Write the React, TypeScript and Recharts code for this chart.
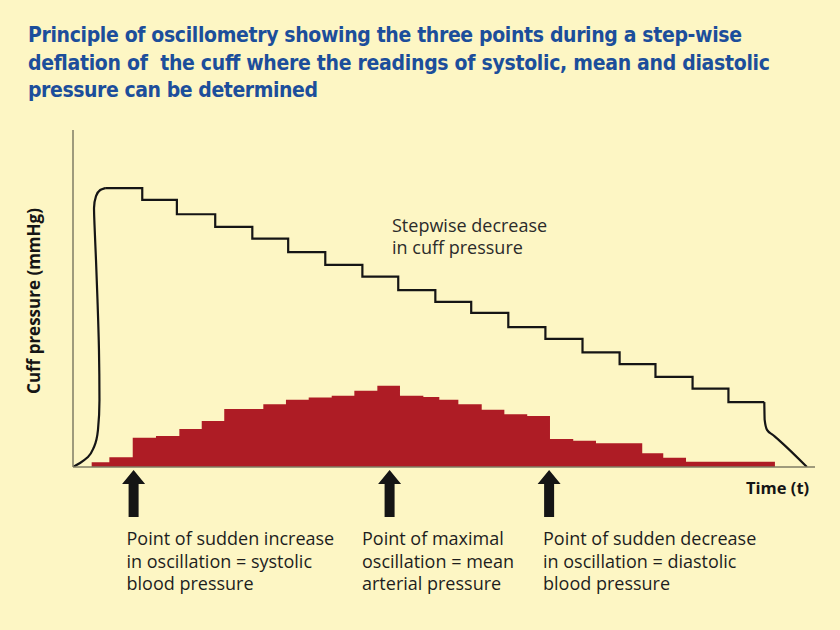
import { ComposedChart, Area, Line, XAxis, YAxis, ReferenceDot } from "recharts";

// time in seconds, pressure / oscillation amplitude in mmHg
const stepTimes = [2.6, 5.6, 8.4, 11.5, 14.5, 17.4, 20.4, 23.4, 26.3, 29.3, 32.2, 35.2, 38.2, 41.2, 44.2, 47.1, 50.1, 53.0, 55.9];
const stepPressures = [165.5, 158.5, 150, 142.5, 135.5, 127.5, 120, 113, 105, 98, 91.5, 83, 76, 68, 61, 53.5, 46.5, 38.5, 38.5];

// inflation (listed from the top down)
const riseTimes = [2.6, 2.2, 1.86, 1.7, 1.74, 1.86, 1.98, 2.1, 2.14, 2.02, 1.7, 1.21, 0.57, 0];
const risePressures = [165.5, 164.4, 160.8, 153.7, 143.6, 122.8, 99.1, 69.4, 39.8, 22.0, 11.9, 5.9, 2.4, 0];

// final release
const fallTimes = [55.9, 55.93, 56.12, 56.6, 57.17, 59.35];
const fallPressures = [38.5, 27.9, 22.0, 19.0, 15.4, 0];

// oscillation amplitude
const pulseTimes = [1.51, 2.94, 4.83, 6.71, 8.6, 10.41, 12.23, 15.39, 17.22, 19.06, 20.92, 22.75, 24.61, 26.44, 28.33, 29.62, 31.16, 33.05, 34.88, 36.73, 38.57, 40.45, 42.29, 46.03, 47.73, 49.57, 56.76];
const pulseAmps = [2.8, 5.8, 17.4, 18.4, 22.6, 27.3, 34.4, 37.2, 39.9, 41.2, 42.3, 45.3, 48.2, 42.3, 41.5, 39.9, 37.2, 34.0, 31.3, 30.3, 16.6, 15.6, 14.1, 8.1, 5.5, 3.1, 3.1];

const markerTimes = [4.9, 25.6, 38.5];

const titleLines = [
  "Principle of oscillometry showing the three points during a step-wise",
  "deflation of  the cuff where the readings of systolic, mean and diastolic",
  "pressure can be determined",
];

const markerLabels = [
  ["Point of sudden increase", "in oscillation = systolic", "blood pressure"],
  ["Point of maximal", "oscillation = mean", "arterial pressure"],
  ["Point of sudden decrease", "in oscillation = diastolic", "blood pressure"],
];

const stepData = stepTimes.map((t, i) => ({ t, p: stepPressures[i] }));
const riseData = riseTimes.map((t, i) => ({ t, p: risePressures[i] }));
const fallData = fallTimes.map((t, i) => ({ t, p: fallPressures[i] }));
const pulseData = pulseTimes.map((t, i) => ({ t, a: pulseAmps[i] }));

const BG = "#FDF6C4";
const RED = "#AE1C25";
const INK = "#151515";
const BLUE = "#1C4E9B";
const AXIS = "#7f7d64";

const bodyFont = "'Open Sans', Lato, sans-serif";
const boldFont = "'Open Sans', Lato, sans-serif";
const titleFont = "'Liberation Sans Narrow', 'DejaVu Sans Condensed', sans-serif";

function Arrow(props: any) {
  const { cx, cy } = props;
  const tip = cy + 3;
  const neck = cy + 17;
  const end = cy + 50;
  const pts = [
    [cx, tip],
    [cx + 11.5, neck],
    [cx + 5, neck],
    [cx + 5, end],
    [cx - 5, end],
    [cx - 5, neck],
    [cx - 11.5, neck],
  ]
    .map((p) => p.join(","))
    .join(" ");
  return <polygon points={pts} fill={INK} />;
}

const labelX = [126.5, 362, 543];
const titleWidths = [714, 742, 290];

export default function App() {
  return (
    <div
      style={{
        position: "absolute",
        left: 0,
        top: 0,
        width: 840,
        height: 630,
        background: BG,
        overflow: "hidden",
      }}
    >
      <ComposedChart width={840} height={630} margin={{ top: 130, right: 25, bottom: 133, left: 13 }}>
        <XAxis
          type="number"
          dataKey="t"
          domain={[0, 60]}
          allowDataOverflow
          tick={false}
          tickLine={false}
          axisLine={{ stroke: AXIS, strokeWidth: 1.5 }}
          height={30}
        />
        <YAxis
          type="number"
          domain={[0, 200]}
          allowDataOverflow
          tick={false}
          tickLine={false}
          axisLine={{ stroke: AXIS, strokeWidth: 1.5 }}
          width={60}
        />
        <Area
          data={pulseData}
          dataKey="a"
          type="stepAfter"
          fill={RED}
          fillOpacity={1}
          stroke="none"
          dot={false}
          activeDot={false}
          isAnimationActive={false}
        />
        <Line
          data={riseData}
          dataKey="p"
          type="monotoneY"
          stroke={INK}
          strokeWidth={2.2}
          dot={false}
          activeDot={false}
          isAnimationActive={false}
        />
        <Line
          data={stepData}
          dataKey="p"
          type="stepAfter"
          stroke={INK}
          strokeWidth={2.2}
          dot={false}
          activeDot={false}
          isAnimationActive={false}
        />
        <Line
          data={fallData}
          dataKey="p"
          type="monotoneX"
          stroke={INK}
          strokeWidth={2.2}
          dot={false}
          activeDot={false}
          isAnimationActive={false}
        />
        {markerTimes.map((t) => (
          <ReferenceDot key={t} x={t} y={0} ifOverflow="visible" shape={Arrow} />
        ))}
      </ComposedChart>

      <svg
        width={840}
        height={630}
        style={{ position: "absolute", left: 0, top: 0, pointerEvents: "none" }}
      >
        {titleLines.map((line, i) => (
          <text
            key={i}
            x={28}
            y={42 + i * 27.5}
            fill={BLUE}
            fontFamily={titleFont}
            fontWeight="bold"
            fontSize={21}
            textLength={titleWidths[i]}
            lengthAdjust="spacing"
            style={{ whiteSpace: "pre" }}
          >
            {line}
          </text>
        ))}

        <text
          transform="translate(40,301) rotate(-90)"
          textAnchor="middle"
          fill={INK}
          fontFamily={boldFont}
          fontWeight="bold"
          fontSize={17}
        >
          Cuff pressure (mmHg)
        </text>

        <text x={746} y={494} fill={INK} fontFamily={boldFont} fontWeight="bold" fontSize={16.5}>
          Time (t)
        </text>

        <text fill="#2b2b2b" fontFamily={bodyFont} fontSize={18}>
          <tspan x={392} y={232}>Stepwise decrease</tspan>
          <tspan x={392} y={254}>in cuff pressure</tspan>
        </text>

        {markerLabels.map((lines, i) => (
          <text key={i} fill="#1e1e1e" fontFamily={bodyFont} fontSize={18}>
            {lines.map((s, j) => (
              <tspan key={j} x={labelX[i]} y={545 + j * 22.5}>
                {s}
              </tspan>
            ))}
          </text>
        ))}
      </svg>
    </div>
  );
}
